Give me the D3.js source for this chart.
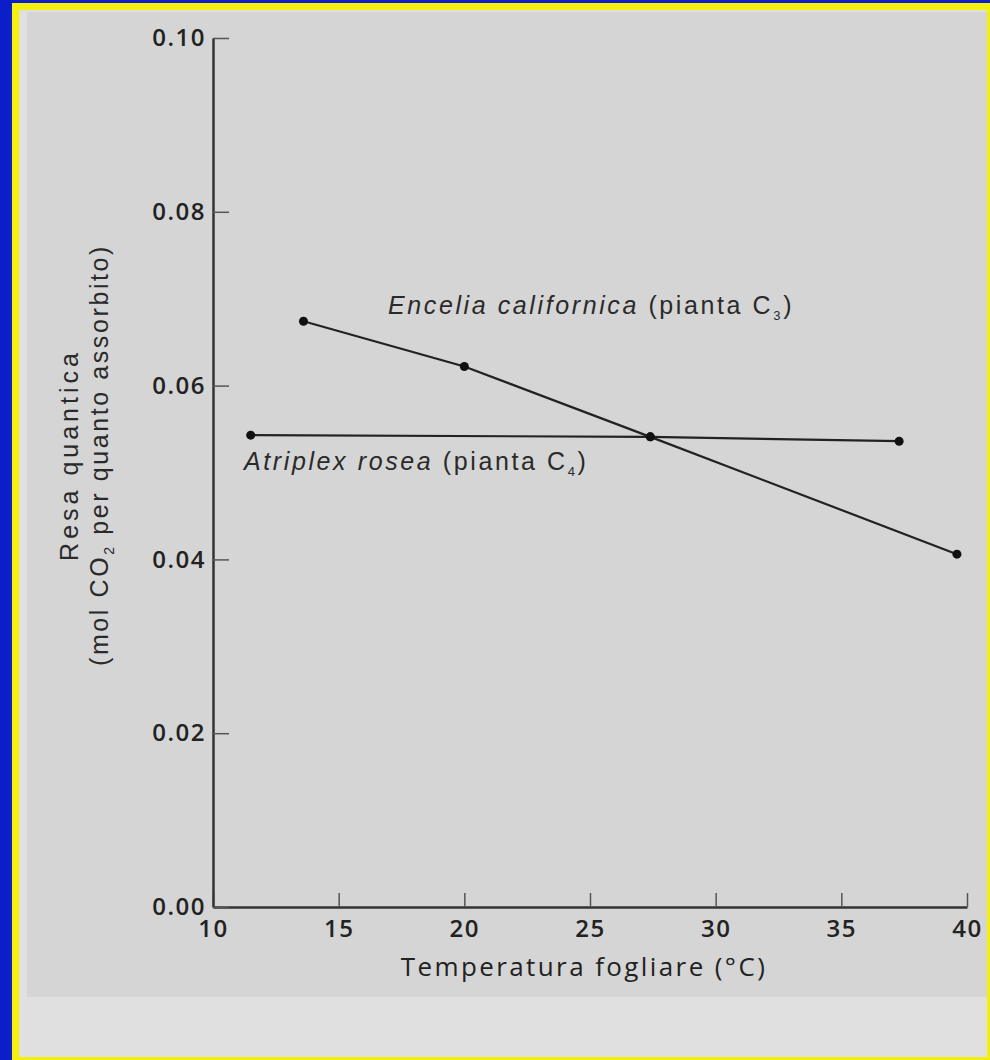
<!DOCTYPE html>
<html>
<head>
<meta charset="utf-8">
<script src="https://cdn.jsdelivr.net/npm/d3@7"></script>
<style>
    body { margin: 0; background: #0b1ec8; }
    svg { display: block; }
</style>
</head>
<body>
<script>
'use strict';
(function() {

    // values
    const enceliaTemp = [13.6, 20, 27.4, 39.6]
    const enceliaYield = [0.0674, 0.0622, 0.0541, 0.0406]
    const atriplexTemp = [11.5, 27.4, 37.3]
    const atriplexYield = [0.0543, 0.0541, 0.0536]

    const xTicks = [10, 15, 20, 25, 30, 35, 40]
    const yTicks = [0.00, 0.02, 0.04, 0.06, 0.08, 0.10]

    let svg = ""

    const measurements = {
        width: 990,
        height: 1060,
        left: 213,
        right: 967,
        top: 38,
        bottom: 907
    }

    const font = "'Liberation Sans', Arial, sans-serif"

    window.onload = function() {
        svg = d3.select("body").append("svg")
            .attr("width", measurements.width)
            .attr("height", measurements.height)

        drawFrame()

        let x = d3.scaleLinear()
            .domain([10, 40])
            .range([measurements.left, measurements.right])
        let y = d3.scaleLinear()
            .domain([0, 0.10])
            .range([measurements.bottom, measurements.top])

        drawAxes(x, y)
        drawSeries(x, y, enceliaTemp, enceliaYield)
        drawSeries(x, y, atriplexTemp, atriplexYield)
        drawLabels()
    }

    function drawFrame() {
        svg.append("rect")
            .attr("x", 0).attr("y", 0)
            .attr("width", measurements.width).attr("height", measurements.height)
            .attr("fill", "#0b1ec8")
        svg.append("rect")
            .attr("x", 12).attr("y", 3)
            .attr("width", measurements.width - 12).attr("height", measurements.height - 3)
            .attr("fill", "#f4ef0c")
        svg.append("rect")
            .attr("x", 19).attr("y", 10)
            .attr("width", 968).attr("height", 1047)
            .attr("fill", "#e0e0e0")
        // the grey panel where the chart sits
        svg.append("rect")
            .attr("x", 27).attr("y", 12)
            .attr("width", 960).attr("height", 985)
            .attr("fill", "#d5d5d5")
    }

    function drawAxes(scaleX, scaleY) {
        let xAxis = d3.axisBottom(scaleX)
            .tickValues(xTicks)
            .tickSize(-14)
            .tickSizeOuter(0)
            .tickPadding(13)
            .tickFormat(d3.format("d"))

        let yAxis = d3.axisLeft(scaleY)
            .tickValues(yTicks)
            .tickSize(-16)
            .tickSizeOuter(0)
            .tickPadding(7)
            .tickFormat(d3.format(".2f"))

        let gx = svg.append("g")
            .attr("transform", "translate(0," + measurements.bottom + ")")
            .call(xAxis)
        let gy = svg.append("g")
            .attr("transform", "translate(" + measurements.left + ",0)")
            .call(yAxis)

        svg.selectAll(".domain")
            .attr("stroke", "#333")
            .attr("stroke-width", 2.5)
        gx.selectAll(".tick line").attr("stroke", "#555").attr("stroke-width", 1.5)
        gy.selectAll(".tick line").attr("stroke", "#555").attr("stroke-width", 1.5)
        svg.selectAll(".tick text")
            .attr("fill", "#222")
            .attr("font-family", "'Open Sans', sans-serif")
            .attr("font-weight", 600)
            .attr("font-size", "24px")
            .attr("letter-spacing", "1.5px")

        // axis titles
        svg.append("text")
            .attr("x", 584)
            .attr("y", 976)
            .attr("text-anchor", "middle")
            .attr("font-family", "'Open Sans', sans-serif")
            .attr("font-size", "26px")
            .attr("letter-spacing", "2.4px")
            .attr("fill", "#222")
            .text("Temperatura fogliare (°C)")

        let yt = svg.append("text")
            .attr("transform", "translate(0,455) rotate(-90)")
            .attr("text-anchor", "middle")
            .attr("font-family", font)
            .attr("font-size", "25px")
            .attr("letter-spacing", "2.6px")
            .attr("fill", "#2a2a2a")
        yt.append("tspan").attr("x", 0).attr("y", 78)
            .attr("letter-spacing", "4px")
            .text("Resa quantica")
        let l2 = yt.append("tspan").attr("x", 0).attr("y", 108)
        l2.append("tspan").text("(mol CO")
        l2.append("tspan").attr("font-size", "14px").attr("dy", 6).text("2")
        l2.append("tspan").attr("dy", -6).text(" per quanto assorbito)")
    }

    function drawSeries(scaleX, scaleY, temps, values) {
        let pts = temps.map((t, i) => [t, values[i]])
        let line = d3.line()
            .x(d => scaleX(d[0]))
            .y(d => scaleY(d[1]))

        svg.append("path")
            .datum(pts)
            .attr("d", line)
            .attr("fill", "none")
            .attr("stroke", "#222")
            .attr("stroke-width", 2.2)

        svg.append("g").selectAll("circle")
            .data(pts)
            .enter()
            .append("circle")
            .attr("cx", d => scaleX(d[0]))
            .attr("cy", d => scaleY(d[1]))
            .attr("r", 4.5)
            .attr("fill", "#111")
    }

    function drawLabels() {
        // species labels, italic name then plain text with subscript
        let labels = [
            { x: 388, y: 314, name: "Encelia californica", sub: "3" },
            { x: 244, y: 470, name: "Atriplex rosea", sub: "4" }
        ]
        labels.forEach(function(l) {
            let t = svg.append("text")
                .attr("x", l.x)
                .attr("y", l.y)
                .attr("font-family", font)
                .attr("font-size", "25px")
                .attr("letter-spacing", "2.6px")
                .attr("fill", "#2a2a2a")
            t.append("tspan").attr("font-style", "italic").text(l.name)
            t.append("tspan").text(" (pianta C")
            t.append("tspan").attr("font-size", "13px").attr("dy", 6).text(l.sub)
            t.append("tspan").attr("dy", -6).text(")")
        })
    }
})()
</script>
</body>
</html>
